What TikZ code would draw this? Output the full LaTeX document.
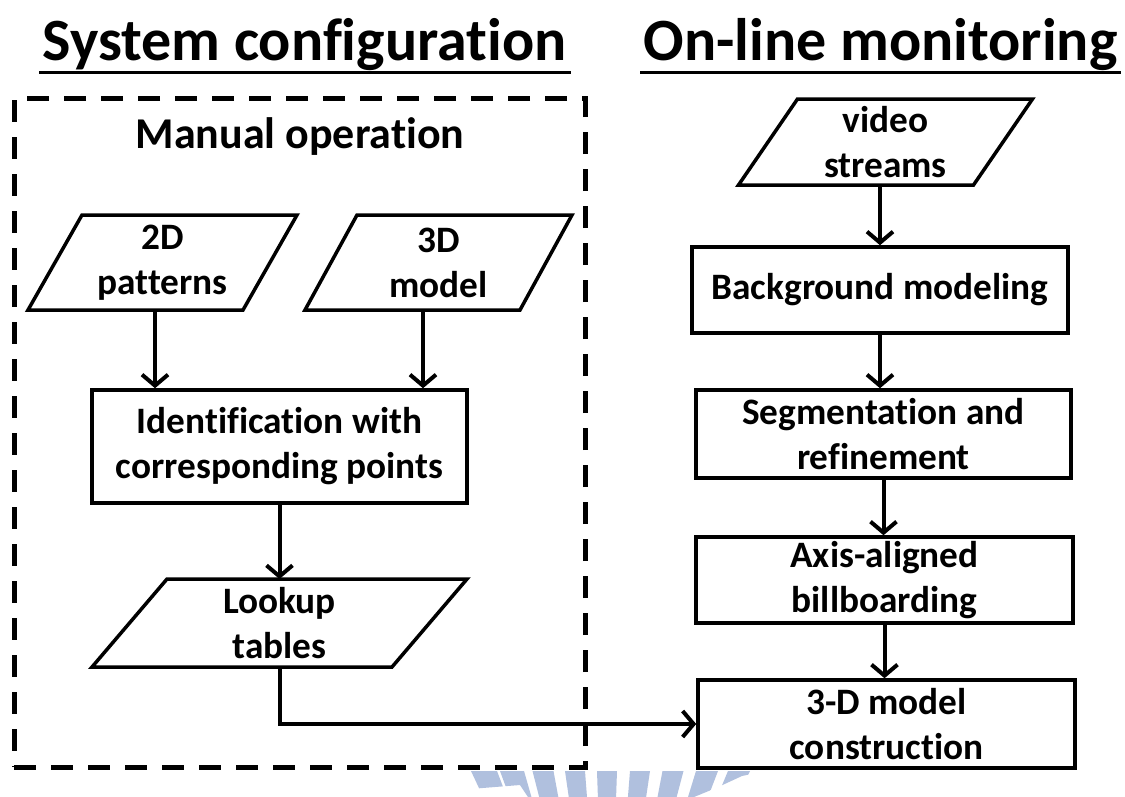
\documentclass[tikz,border=0pt]{standalone}
\usepackage{fontspec}
\setmainfont{Carlito}[Ligatures=NoCommon]
\usetikzlibrary{arrows.meta,calc}
\newcommand\boxfont{\fontsize{37.3}{45}\selectfont\bfseries}
\newcommand\titlefont{\fontsize{60}{72}\selectfont\bfseries}
\newcommand\paraoutline[2]{\draw[line width=3.5pt,line join=miter] ([xshift=#2]#1.north west) -- ([xshift=#2]#1.north east) -- ([xshift=-#2]#1.south east) -- ([xshift=-#2]#1.south west) -- cycle;}
\definecolor{wmblue}{RGB}{176,192,222}
\begin{document}
\begin{tikzpicture}[x=1pt,y=-1pt,
  procbox/.style={draw,line width=3.5pt,align=center,inner sep=0pt,font=\boxfont},
  paranode/.style={inner sep=0pt,outer sep=0pt,align=center,font=\boxfont},
  arr/.style={line width=4pt,-{Straight Barb[length=11pt,width=26pt]}},
  frame/.style={draw,line width=5pt,dash pattern=on 22pt off 15pt,inner sep=0pt}]
\useasboundingbox[fill=white] (0,0) rectangle (1125,796);

% watermark
\begin{scope}
\clip (460,771) -- (765,771) -- (742,776) -- (716,788) -- (694,797) -- (528,797) -- (520,785) -- (470,789) -- cycle;
\foreach \xc/\w in {484/26,512/24,543/21,575/20,607/20,640/20,673/21,707/22,739/22}{
  \fill[wmblue] ({\xc-\w/2},771) -- ({\xc+\w/2},771) -- ({607+(\xc+\w/2-607)*0.9},800) -- ({607+(\xc-\w/2-607)*0.9},800) -- cycle;
}
\end{scope}

% titles
\node[anchor=base,inner sep=0pt,font=\titlefont] (t1) at (304.5,60) {System configuration};
\draw[line width=3pt] ([xshift=-3pt,yshift=-12pt]t1.base west) -- ([xshift=4pt,yshift=-12pt]t1.base east);
\node[anchor=base,inner sep=0pt,font=\titlefont] (t2) at (880.5,60) {On-line monitoring};
\draw[line width=3pt] ([xshift=-3pt,yshift=-12pt]t2.base west) -- ([xshift=3pt,yshift=-12pt]t2.base east);

% dashed frame
\node[frame,minimum width=571pt,minimum height=669pt] (frm) at (299.5,432.5) {};
\node[anchor=base,inner sep=0pt,font=\fontsize{44}{52}\selectfont\bfseries] (manual) at (300,148) {Manual operation};

% left column
\node[paranode,minimum width=215pt,minimum height=95pt] (p2d) at (162.5,262.5) {2D\\patterns};
\paraoutline{p2d}{27pt}
\node[paranode,minimum width=215pt,minimum height=95pt] (p3d) at (438.5,262.5) {3D\\model};
\paraoutline{p3d}{26pt}
\node[procbox,minimum width=375pt,minimum height=113pt] (ident) at (279.5,446.5) {Identification with\\corresponding points};
\node[paranode,minimum width=300pt,minimum height=88pt] (lookup) at (279.5,623) {Lookup\\tables};
\paraoutline{lookup}{37.5pt}

% right column
\node[paranode,minimum width=235pt,minimum height=86pt] (video) at (885.5,142) {video\\streams};
\paraoutline{video}{29.5pt}
\node[procbox,minimum width=376pt,minimum height=86pt] (bg) at (880,290) {Background modeling};
\node[procbox,minimum width=375pt,minimum height=88pt] (seg) at (883.5,434) {Segmentation and\\refinement};
\node[procbox,minimum width=377pt,minimum height=86pt] (axis) at (884.5,580) {Axis-aligned\\billboarding};
\node[procbox,minimum width=377pt,minimum height=88pt] (cons) at (886.5,724) {3-D model\\construction};

% connectors
\draw[arr] ([xshift=-7.5pt]p2d.south) -- ([xshift=-7.5pt]p2d.south |- ident.north);
\draw[arr] ([xshift=-15.5pt]p3d.south) -- ([xshift=-15.5pt]p3d.south |- ident.north);
\draw[arr] (ident.south) -- (lookup.north);
\draw[arr] (lookup.south) |- (cons.west);
\draw[arr] (bg.north |- video.south) -- (bg.north);
\draw[arr] (bg.south) -- (bg.south |- seg.north);
\draw[arr] (seg.south) -- (seg.south |- axis.north);
\draw[arr] (axis.south) -- (axis.south |- cons.north);
\end{tikzpicture}
\end{document}
